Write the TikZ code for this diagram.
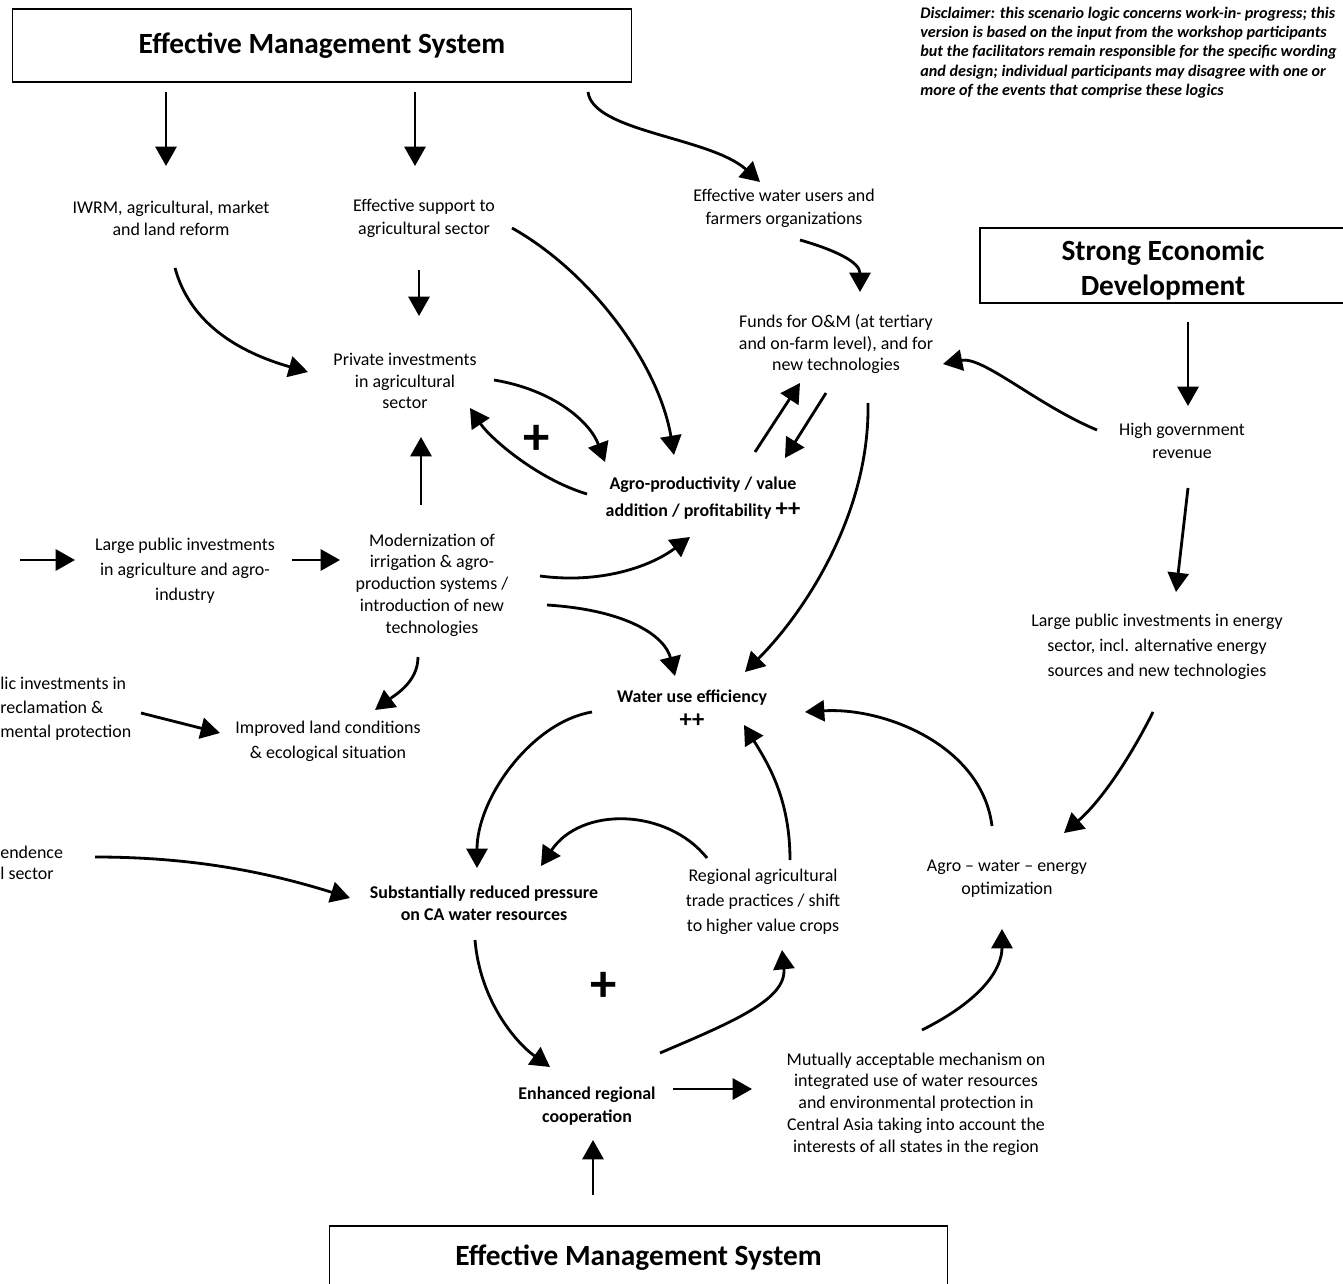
\documentclass[tikz,border=0pt]{standalone}
\usepackage{fontspec}
\setmainfont{Carlito}
\usetikzlibrary{arrows.meta}

\begin{document}
\begin{tikzpicture}[x=0.02cm, y=-0.02cm,
  txt/.style={align=center, inner sep=1pt, font=\fontsize{10.2}{#1}\selectfont},
  txt/.default=12.4,
  btxt/.style={align=center, inner sep=1pt, font=\fontsize{10.2}{#1}\selectfont\bfseries},
  btxt/.default=12.4,
  frag/.style={align=left, inner sep=0pt, anchor=west, font=\fontsize{10.2}{#1}\selectfont},
  titlebox/.style={draw, line width=.6pt, inner sep=0pt, align=center, font=\fontsize{16.7}{19.5}\selectfont\bfseries},
  arr/.style={line width=1.6pt, -{Triangle[length=11pt,width=12pt]}},
  sign/.style={inner sep=0pt, font=\fontsize{30}{30}\selectfont\bfseries}]
  \clip (0,0) rectangle (1343,1284);

  \node[titlebox, minimum width=12.4cm, minimum height=1.46cm] (ems) at (322,45.5) {Effective Management System};
  \node[titlebox, draw=none] (sed) at (1163,270) {Strong Economic\\Development};
  \draw[line width=.6pt] ([shift={(-183,-42)}]sed.center) rectangle ([shift={(183,33)}]sed.center);
  \node[titlebox, minimum width=12.38cm, minimum height=1.28cm] (ems2) at (638.5,1258) {Effective Management System};

  \node[anchor=north west, align=left, inner sep=0pt, font=\fontsize{9.2}{10.9}\selectfont\bfseries\itshape] (disc) at (920,7)
    {Disclaimer: this scenario logic concerns work-in- progress; this\\
     version is based on the input from the workshop participants\\
     but the facilitators remain responsible for the specific wording\\
     and design; individual participants may disagree with one or\\
     more of the events that comprise these logics};

  \node[txt] (iwrm) at (171,218) {IWRM, agricultural, market\\and land reform};
  \node[txt=13] (sup) at (424,218) {Effective support to\\agricultural sector};
  \node[txt=13] (wus) at (784,208) {Effective water users and\\farmers organizations};
  \node[txt] (fund) at (836,344) {Funds for O\&M (at tertiary\\and on-farm level), and for\\new technologies};
  \node[txt] (priv) at (405,381) {Private investments\\in agricultural\\sector};
  \node[txt=13] (hgr) at (1182,441) {High government\\revenue};
  \node[btxt=15.8] (agro) at (703,498) {Agro-productivity / value\\addition / profitability {\fontsize{14}{14}\selectfont ++}};
  \node[sign] (plus1) at (537,440) {+};
  \node[txt=14.2] (lpa) at (185,571) {Large public investments\\in agriculture and agro-\\industry};
  \node[txt] (mod) at (432,585) {Modernization of\\irrigation \& agro-\\production systems /\\introduction of new\\technologies};
  \node[txt=14.2] (lpe) at (1157,647) {Large public investments in energy\\sector, incl. alternative energy\\sources and new technologies};
  \node[frag=13.6] (recl) at (0,709) {lic investments in\\reclamation \&\\mental protection};
  \node[txt=14.2] (iml) at (328,741) {Improved land conditions\\\& ecological situation};
  \node[btxt=14.2] (wue) at (692,709) {Water use efficiency\\{\fontsize{14}{14}\selectfont ++}};
  \node[frag=12] (dep) at (0,863) {endence\\l sector};
  \node[btxt] (srp) at (484,903) {Substantially reduced pressure\\on CA water resources};
  \node[txt=14.2] (rat) at (763,902) {Regional agricultural\\trade practices / shift\\to higher value crops};
  \node[txt=13] (awe) at (1007,879) {Agro -- water -- energy\\optimization};
  \node[sign] (plus2) at (604,987) {+};
  \node[btxt=13] (erc) at (587,1106) {Enhanced regional\\cooperation};
  \node[txt] (mam) at (916,1104) {Mutually acceptable mechanism on\\integrated use of water resources\\and environmental protection in\\Central Asia taking into account the\\interests of all states in the region};
  \coordinate (lpain) at (20,560);

  \draw[arr] ([shift={(-156,46.5)}]ems.center) -- ([shift={(-5,-52)}]iwrm.center);
  \draw[arr] ([shift={(93,46.5)}]ems.center) -- ([shift={(-9,-52)}]sup.center);
  \draw[arr] ([shift={(266,46.5)}]ems.center) .. controls +(5,40) and +(-50,-45) .. ([shift={(-24,-26)}]wus.center);
  \draw[arr] ([shift={(4,50)}]iwrm.center) .. controls +(15,55) and +(-70,-20) .. ([shift={(-97,-9)}]priv.center);
  \draw[arr] ([shift={(-5,52)}]sup.center) -- ([shift={(14,-65)}]priv.center);
  \draw[arr] ([shift={(88,10)}]sup.center) .. controls +(80,45) and +(-15,-90) .. ([shift={(-29,-43)}]agro.center);
  \draw[arr] ([shift={(16,32)}]wus.center) .. controls +(35,10) and +(0,-30) .. ([shift={(24,-52)}]fund.center);
  \draw[arr] ([shift={(89,-1)}]priv.center) .. controls +(60,10) and +(-15,-40) .. ([shift={(-98,-36)}]agro.center);
  \draw[arr] ([shift={(-116,-4)}]agro.center) .. controls +(-50,-15) and +(20,30) .. ([shift={(65,27)}]priv.center);
  \draw[arr] ([shift={(-11,-80)}]mod.center) -- ([shift={(16,56)}]priv.center);
  \draw[arr] ([shift={(52,-46)}]agro.center) -- ([shift={(-36,39)}]fund.center);
  \draw[arr] ([shift={(-10,49)}]fund.center) -- ([shift={(82,-40)}]agro.center);
  \draw[arr] ([shift={(32,59)}]fund.center) .. controls +(2,110) and +(60,-60) .. ([shift={(53,-37)}]wue.center);
  \draw[arr] ([shift={(-85,-11)}]hgr.center) .. controls +(-60,-25) and +(40,-8) .. ([shift={(107,20)}]fund.center);
  \draw[arr] ([shift={(25,52)}]sed.center) -- ([shift={(6,-35)}]hgr.center);
  \draw[arr] ([shift={(6,47)}]hgr.center) -- ([shift={(19,-55)}]lpe.center);
  \draw[arr] ([shift={(-4,65)}]lpe.center) .. controls +(-25,50) and +(35,-30) .. ([shift={(57,-46)}]awe.center);
  \draw[arr] (lpain) -- ([shift={(-110,-11)}]lpa.center);
  \draw[arr] ([shift={(107,-11)}]lpa.center) -- ([shift={(-92,-25)}]mod.center);
  \draw[arr] ([shift={(108,-9)}]mod.center) .. controls +(60,8) and +(-40,30) .. ([shift={(-13,39)}]agro.center);
  \draw[arr] ([shift={(115,20)}]mod.center) .. controls +(80,5) and +(-10,-40) .. ([shift={(-17,-33)}]wue.center);
  \draw[arr] ([shift={(-14,72)}]mod.center) .. controls +(0,25) and +(20,-15) .. ([shift={(47,-31)}]iml.center);
  \draw[arr] ([shift={(141,4)}]recl.west) -- ([shift={(-108,-8)}]iml.center);
  \draw[arr] ([shift={(-100,3)}]wue.center) .. controls +(-60,10) and +(0,-70) .. ([shift={(-7,-35)}]srp.center);
  \draw[arr] ([shift={(-56,-44)}]rat.center) .. controls +(-40,-50) and +(40,-60) .. ([shift={(57,-37)}]srp.center);
  \draw[arr] ([shift={(27,-42)}]rat.center) .. controls +(0,-60) and +(25,40) .. ([shift={(52,16)}]wue.center);
  \draw[arr] ([shift={(-15,-53)}]awe.center) .. controls +(-10,-80) and +(80,-5) .. ([shift={(113,3)}]wue.center);
  \draw[arr] ([shift={(95,-6)}]dep.west) .. controls +(100,0) and +(-80,-25) .. ([shift={(-134,-5)}]srp.center);
  \draw[arr] ([shift={(-9,37)}]srp.center) .. controls +(5,60) and +(-35,-25) .. ([shift={(-37,-39)}]erc.center);
  \draw[arr] ([shift={(73,-53)}]erc.center) .. controls +(70,-30) and +(5,50) .. ([shift={(19,48)}]rat.center);
  \draw[arr] ([shift={(86,-17)}]erc.center) -- ([shift={(-164,-15)}]mam.center);
  \draw[arr] ([shift={(6,-74)}]mam.center) .. controls +(60,-30) and +(0,40) .. ([shift={(-5,50)}]awe.center);
  \draw[arr] ([shift={(-45.5,-63)}]ems2.center) -- ([shift={(6,34)}]erc.center);
\end{tikzpicture}
\end{document}
